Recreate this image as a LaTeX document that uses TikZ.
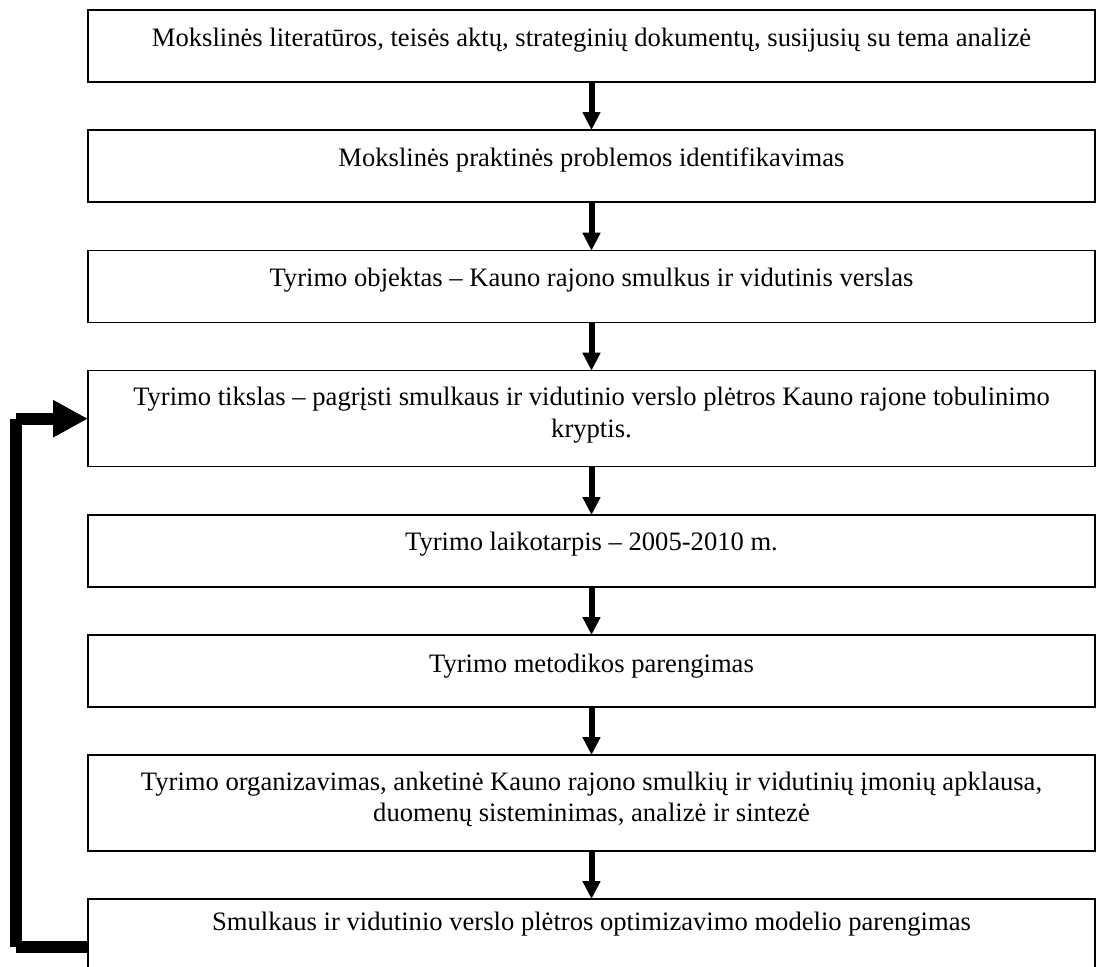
\documentclass[tikz,border=0pt]{standalone}
\usepackage{fontspec}
\setmainfont{Liberation Serif}
\usetikzlibrary{arrows.meta,calc}
\begin{document}
\begin{tikzpicture}[x=0.5pt,y=-0.5pt,
  box/.style={draw, line width=0.65pt, minimum width=503.5pt, minimum height=36pt, inner sep=0pt, outer sep=0pt, anchor=north west},
  tallbox/.style={box, minimum height=48pt},
  lbl/.style={anchor=base, align=center, inner sep=0pt, font=\fontsize{13.3pt}{15.85pt}\selectfont},
  flow/.style={line width=3pt, -{Triangle[width=8.5pt,length=9pt]}},
  back/.style={line width=5.8pt},
  backtip/.style={back, -{Triangle[width=17.5pt,length=17.5pt]}}]
\useasboundingbox (0,0) rectangle (1096,966);
\clip (0,0) rectangle (1096,966);
% boxes
\node[box]     (b1) at (88,10) {};
\node[box]     (b2) at (88,130) {};
\node[box]     (b3) at (88,250.7) {};
\node[tallbox] (b4) at (88,370.7) {};
\node[box]     (b5) at (88,515) {};
\node[box]     (b6) at (88,635) {};
\node[tallbox] (b7) at (88,755) {};
\node[tallbox] (b8) at (88,899) {};
% texts (anchor = baseline of the last line)
\node[lbl] (t1) at (591.5,46) {Mokslinės literatūros, teisės aktų, strateginių dokumentų, susijusių su tema analizė};
\node[lbl] (t2) at (591.5,166) {Mokslinės praktinės problemos identifikavimas};
\node[lbl] (t3) at (591.5,286.7) {Tyrimo objektas – Kauno rajono smulkus ir vidutinis verslas};
\node[lbl] (t4) at (591.5,437.4) {Tyrimo tikslas – pagrįsti smulkaus ir vidutinio verslo plėtros Kauno rajone tobulinimo\\kryptis.};
\node[lbl] (t5) at (591.5,550) {Tyrimo laikotarpis – 2005-2010 m.};
\node[lbl] (t6) at (591.5,672) {Tyrimo metodikos parengimas};
\node[lbl] (t7) at (591.5,821.7) {Tyrimo organizavimas, anketinė Kauno rajono smulkių ir vidutinių įmonių apklausa,\\duomenų sisteminimas, analizė ir sintezė};
\node[lbl] (t8) at (591.5,930) {Smulkaus ir vidutinio verslo plėtros optimizavimo modelio parengimas};
% flow arrows
\draw[flow] (b1.south) -- (b2.north);
\draw[flow] (b2.south) -- (b3.north);
\draw[flow] (b3.south) -- (b4.north);
\draw[flow] (b4.south) -- (b5.north);
\draw[flow] (b5.south) -- (b6.north);
\draw[flow] (b6.south) -- (b7.north);
\draw[flow] (b7.south) -- (b8.north);
% feedback
\coordinate (fbBot) at (15.8,947);
\coordinate (fbTop) at (15.8,418.7);
\draw[back] (b8.west) -- (fbBot);
\draw[back] (fbBot) -- (fbTop);
\draw[backtip] (fbTop) -- (b4.west);
\end{tikzpicture}
\end{document}
